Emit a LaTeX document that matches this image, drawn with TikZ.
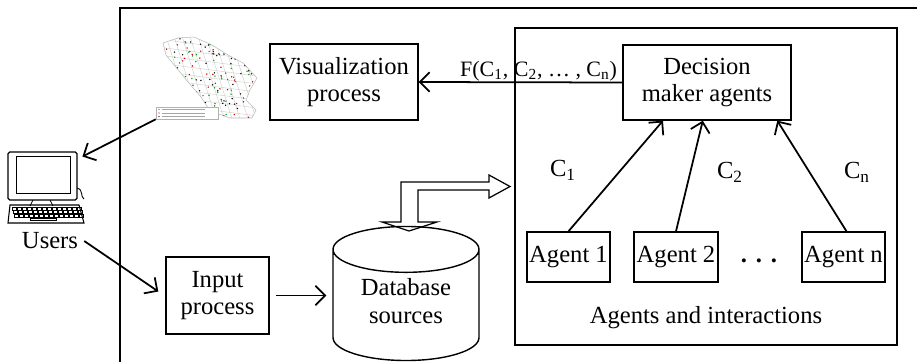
\documentclass[tikz,border=0pt]{standalone}
\usepackage{fontspec}
\setmainfont{Liberation Serif}
\usetikzlibrary{arrows.meta,positioning,shapes.geometric,calc}

\begin{document}
\begin{tikzpicture}[
  x=0.02cm, y=-0.02cm,
  font=\fontsize{14}{15.5}\selectfont,
  box/.style={draw, line width=0.8pt, align=center, inner sep=1pt},
  flow/.style={line width=1pt, -{Straight Barb[length=5.5pt,width=11pt]}},
]
  \useasboundingbox (0,0) rectangle (917,362);

  % Outer system frame (only top and left edges are visible)
  \draw[line width=1.1pt] (120,362) -- (120,8) -- (917,8);

  % Map thumbnail
  \def\mapoutline{(163,43) -- (178,38) -- (194,37) -- (212,45) -- (228,55)
    -- (243,63) -- (257,78) -- (250,90) -- (246,100) -- (256,110) -- (252,118)
    -- (230,118) -- (210,111) -- (201,97) -- (188,82) -- (175,66) -- (166,55) -- cycle}
  \draw[gray!55, line width=0.3pt] \mapoutline;
  \begin{scope}
    \clip \mapoutline;
    \foreach \k in {0,...,16}
      \draw[gray!45, line width=0.2pt] (140+\k*8,30) -- (170+\k*8,125);
    \foreach \k in {0,...,12}
      \draw[gray!45, line width=0.2pt] (150,30+\k*8) -- (265,45+\k*8);
    \pgfmathsetseed{11}
    \foreach \i in {1,...,200}{
      \pgfmathsetmacro{\px}{160+97*rnd}
      \pgfmathsetmacro{\py}{35+85*rnd}
      \pgfmathtruncatemacro{\pc}{3*rnd}
      \ifcase\pc \def\dotcol{red!80!black}\or \def\dotcol{green!60!black}\else \def\dotcol{black}\fi
      \fill[\dotcol] (\px,\py) circle (0.45pt);
    }
  \end{scope}
  % map legend
  \node[draw=gray!60, line width=0.3pt, fill=white, minimum width=1.24cm, minimum height=0.24cm, inner sep=0pt] (legend) at (187,113) {};
  \foreach \r/\c in {109.5/green!60!black, 113/red!80!black, 116.5/black}{
    \fill[\c] (159,\r) circle (0.4pt);
    \draw[gray!70, line width=0.25pt] (162,\r) -- (205,\r);
  }

  % Processes
  \node[box, minimum width=2.96cm, minimum height=1.52cm] (vis) at (344,82) {Visualization\\process};
  \node[box, minimum width=2.06cm, minimum height=1.54cm] (inp) at (217.5,295.5) {Input\\process};
  \node[draw, cylinder, shape border rotate=90, aspect=0.45, line width=0.8pt, align=center,
        text depth=10pt, minimum width=2.92cm, minimum height=2.26cm, anchor=shape center]
        (db) at (406,293.5) {Database\\sources};

  % Multi-agent part
  \node[draw, line width=0.8pt, minimum width=7.64cm, minimum height=6.34cm] (mas) at (706,186.5) {};
  \node (mastxt) at (706,318) {Agents and interactions};
  \node[box, minimum width=3.36cm, minimum height=1.5cm] (dec) at (707,82.5) {Decision\\maker agents};
  \node[box, minimum width=1.66cm, minimum height=1cm] (ag1) at (568.5,257) {Agent 1};
  \node[box, minimum width=1.68cm, minimum height=1cm] (ag2) at (676,257) {Agent 2};
  \node[box, minimum width=1.66cm, minimum height=1cm] (agn) at (843.5,257) {Agent n};
  \node (dots) at (759,261) {\textbf{.}\hspace{5pt}\textbf{.}\hspace{5pt}\textbf{.}};

  \node (c1) at (563,170) {C\textsubscript{1}};
  \node (c2) at (730,172) {C\textsubscript{2}};
  \node (cn) at (857,172) {C\textsubscript{n}};

  \draw[flow] (ag1.north) -- ($(dec.south west)!0.24!(dec.south east)$);
  \draw[flow] (ag2.north) -- ($(dec.south west)!0.475!(dec.south east)$);
  \draw[flow] ($(agn.north)+(3,0)$) -- ($(dec.south west)!0.915!(dec.south east)$);
  \draw[flow] (dec.west) -- (vis.east)
    node[at start, anchor=south east, xshift=-2pt, inner sep=0.5pt, font=\fontsize{12.5}{14}\selectfont]
      {F(C\textsubscript{1}, C\textsubscript{2}, \dots\ , C\textsubscript{n})};

  % Users
  \draw[line width=0.7pt, rounded corners=1pt] (8,152) rectangle (77,200);
  \node[draw, line width=0.5pt, minimum width=1.08cm, minimum height=0.74cm, inner sep=0pt] (pc) at (43,174.5) {};
  \draw[line width=0.5pt] (33,200) -- (30,206) (50,200) -- (53,206);
  \draw[line width=0.5pt] (77,188) .. controls (84,190) and (80,197) .. (84,199);
  \draw[line width=0.6pt] (10,205) -- (79,205) -- (84,223) -- (8,223) -- cycle;
  \foreach \j in {0,...,2}
    \foreach \k in {0,...,13}
      \draw[line width=0.3pt] (12+\k*5+\j*1,207+\j*3.5) rectangle ++(4,2.8);
  \draw[line width=0.3pt] (30,218) rectangle (56,220.5);
  \node (users) at (50,241) {Users};

  \draw[flow] (legend.south west) -- ($(pc.north east)+(12,1)$);
  \draw[flow] (users.east) -- ($(inp.west)+(-7,-4)$);
  \draw[flow] (inp.east) ++(6,0) -- ($(inp.east -| db.west)+(-6,0)$);

  % Data exchange arrow
  \draw[line width=0.7pt] (409,231) -- (437,222) -- (418,222) -- (418,190) -- (489,190)
    -- (489,198) -- (510,186.5) -- (489,175) -- (489,182) -- (401,182) -- (401,222)
    -- (382,222) -- cycle;
\end{tikzpicture}
\end{document}
